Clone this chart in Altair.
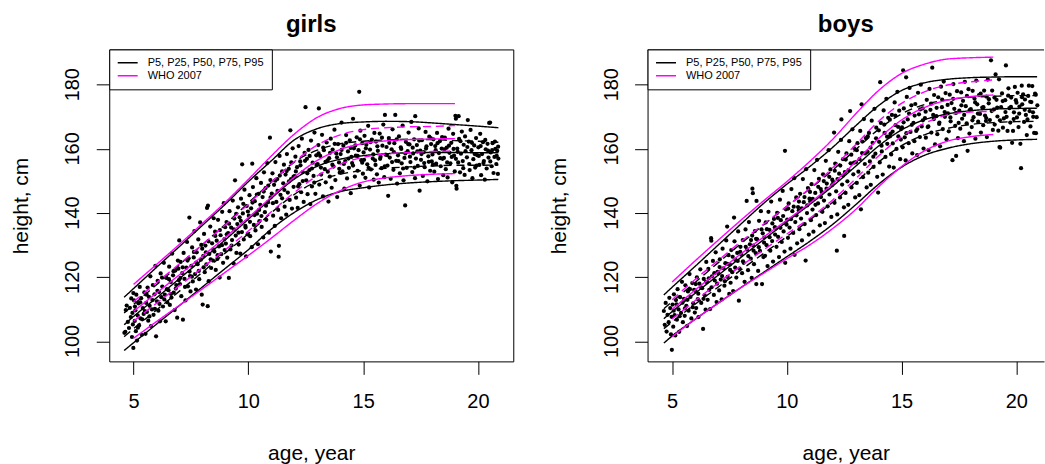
import altair as alt
import pandas as pd

FONT = "Liberation Sans"
MAGENTA = "#FF00FF"
LEG_STUDY = "P5, P25, P50, P75, P95"
LEG_WHO = "WHO 2007"
Y_DOMAIN = [93.8, 191.0]
GIRLS_X = [3.94, 21.54]
BOYS_X = [3.93, 21.21]
X_TICKS = [5, 10, 15, 20]
Y_TICKS = [100, 120, 140, 160, 180]

# ---------------- study percentile curves ----------------
girls_curve_age = [4.59, 5, 6, 7, 8, 9, 10, 11, 12, 13, 14, 15, 16, 17, 18, 19, 20, 20.89]
girls_p95 = [113.8, 116.5, 123.1, 129.6, 136.2, 142.8, 149.8, 156.3, 162.8, 166.3, 167.9, 168.4, 168.6, 168.5, 168.1, 167.6, 167.1, 166.6]
girls_p75 = [108.9, 111.5, 117.7, 123.9, 130.2, 136.5, 143.2, 149.6, 155.9, 159.6, 161.6, 162.4, 162.8, 163.0, 162.9, 162.6, 162.4, 162.1]
girls_p50 = [105.2, 107.8, 113.6, 119.6, 125.6, 131.7, 138.1, 144.6, 150.6, 154.6, 156.8, 157.9, 158.5, 158.8, 158.9, 158.9, 158.8, 158.8]
girls_p25 = [101.5, 104.0, 109.8, 115.7, 121.6, 127.6, 133.6, 140.1, 145.8, 149.9, 152.1, 153.3, 154.0, 154.4, 154.7, 154.9, 154.9, 155.0]
girls_p5 = [97.2, 99.6, 105.4, 111.2, 117.0, 122.8, 128.6, 135.0, 140.2, 144.2, 146.7, 147.9, 148.8, 149.4, 149.8, 150.1, 150.3, 150.5]

boys_curve_age = [4.64, 5, 6, 7, 8, 9, 10, 11, 12, 13, 14, 15, 16, 17, 18, 19, 20, 20.91]
boys_p95 = [114.5, 116.9, 123.4, 130.0, 136.6, 143.1, 149.0, 154.5, 160.5, 167.2, 173.5, 178.2, 180.6, 181.7, 182.2, 182.4, 182.5, 182.5]
boys_p75 = [110.2, 112.4, 118.4, 124.5, 130.5, 136.4, 142.1, 147.5, 153.4, 159.8, 166.1, 170.9, 173.8, 175.3, 176.1, 176.4, 176.6, 176.6]
boys_p50 = [107.1, 109.3, 115.0, 120.6, 126.2, 131.8, 137.3, 142.7, 148.4, 154.6, 160.9, 165.9, 169.1, 170.9, 171.9, 172.4, 172.6, 172.7]
boys_p25 = [104.0, 106.1, 111.6, 116.9, 122.3, 127.5, 132.7, 137.9, 143.4, 149.6, 155.9, 161.0, 164.4, 166.4, 167.6, 168.2, 168.5, 168.6]
boys_p5 = [99.5, 101.7, 106.9, 111.9, 116.8, 121.6, 126.4, 131.2, 136.5, 142.6, 149.0, 154.3, 158.0, 160.2, 161.6, 162.4, 162.8, 163.0]

# ---------------- WHO 2007 reference curves ----------------
who_age = [5, 6, 7, 8, 9, 10, 11, 12, 13, 14, 15, 16, 17, 18, 19]
girls_who_hi = [117.8, 124.0, 130.3, 136.8, 143.4, 150.5, 157.8, 164.6, 169.8, 172.6, 173.7, 174.0, 174.1, 174.1, 174.1]
girls_who_q3 = [112.4, 118.3, 124.2, 130.2, 136.4, 142.8, 149.6, 156.0, 161.2, 164.4, 166.0, 166.6, 166.9, 167.0, 167.3]
girls_who_med = [109.4, 115.1, 120.8, 126.6, 132.5, 138.6, 145.0, 151.2, 156.4, 159.8, 161.7, 162.5, 162.9, 163.1, 163.2]
girls_who_q1 = [106.4, 111.9, 117.4, 123.0, 128.6, 134.4, 140.4, 146.4, 151.6, 155.2, 157.4, 158.4, 158.9, 159.2, 159.3]
girls_who_lo = [101.0, 106.2, 111.3, 116.4, 121.6, 126.8, 132.2, 137.8, 143.0, 147.0, 149.7, 151.0, 151.7, 152.1, 152.3]

boys_who_hi = [118.5, 125.1, 131.5, 137.8, 143.9, 149.8, 156.1, 163.0, 170.9, 178.2, 183.5, 186.4, 188.0, 188.4, 188.6]
boys_who_q3 = [113.0, 119.3, 125.2, 131.1, 136.6, 142.1, 147.7, 154.1, 161.3, 168.6, 174.2, 177.8, 179.9, 180.9, 181.5]
boys_who_med = [110.0, 116.0, 121.7, 127.3, 132.6, 137.8, 143.1, 149.1, 156.0, 163.2, 169.0, 172.9, 175.2, 176.3, 176.8]
boys_who_q1 = [107.0, 112.7, 118.2, 123.5, 128.6, 133.5, 138.4, 144.1, 150.7, 157.8, 163.8, 168.0, 170.6, 171.5, 171.7]
boys_who_lo = [101.5, 106.9, 111.9, 116.8, 121.3, 125.8, 130.1, 135.2, 141.1, 148.2, 154.5, 159.4, 162.4, 163.8, 164.5]

# ---------------- individual measurements (age, height) ----------------
girls_points = [
    (4.60, 102.7), (4.64, 103.0), (4.66, 109.8), (4.70, 111.2), (4.75, 106.1), (4.80, 104.2), (4.84, 110.5),
    (4.88, 107.6), (4.90, 113.4), (4.93, 101.4), (4.95, 108.9), (4.97, 105.3), (4.99, 98.0), (4.99, 115.1),
    (5.02, 112.8), (5.05, 106.4), (5.08, 109.7), (5.10, 103.2), (5.12, 114.6), (5.15, 100.3), (5.18, 108.1),
    (5.21, 111.9), (5.24, 105.0), (5.27, 117.0), (5.30, 107.2), (5.33, 113.5), (5.36, 102.1), (5.40, 110.4),
    (5.44, 108.6), (5.47, 115.3),
    (5.52, 102.4), (5.55, 112.0), (5.58, 109.2), (5.61, 116.8), (5.64, 106.5), (5.67, 113.9), (5.70, 111.1),
    (5.73, 120.3), (5.76, 104.8), (5.80, 110.0), (5.84, 117.6), (5.87, 108.3), (5.91, 114.7), (5.95, 123.6),
    (5.98, 101.6),
    (6.02, 112.5), (6.05, 118.9), (6.08, 109.6), (6.11, 115.4), (6.15, 106.3), (6.18, 121.2), (6.21, 113.8),
    (6.25, 117.1), (6.28, 110.9), (6.32, 124.5), (6.36, 114.6), (6.40, 106.3), (6.43, 119.8), (6.47, 112.2),
    (6.52, 116.0), (6.55, 123.3), (6.58, 111.4), (6.62, 118.5), (6.65, 113.7), (6.68, 127.4), (6.72, 120.6),
    (6.75, 115.2), (6.79, 109.8), (6.82, 122.1), (6.86, 117.6), (6.90, 107.4), (6.93, 125.2), (6.97, 119.1),
    (6.99, 131.5),
    (7.02, 117.9), (7.05, 124.8), (7.08, 114.1), (7.12, 121.3), (7.15, 106.8), (7.18, 127.6), (7.22, 119.5),
    (7.26, 112.8), (7.30, 123.0), (7.33, 131.0), (7.37, 117.2), (7.40, 125.9), (7.43, 138.6), (7.46, 120.4),
    (7.48, 115.6),
    (7.52, 123.6), (7.55, 129.3), (7.58, 118.7), (7.62, 126.2), (7.65, 134.4), (7.68, 121.0), (7.72, 116.2),
    (7.75, 127.8), (7.79, 124.1), (7.82, 131.8), (7.86, 119.4), (7.90, 137.1), (7.93, 125.5), (7.97, 114.6),
    (7.99, 128.9),
    (8.01, 111.5), (8.04, 126.7), (8.07, 133.5), (8.10, 121.6), (8.13, 129.9), (8.17, 124.0), (8.20, 141.6),
    (8.23, 111.0), (8.24, 142.3), (8.27, 118.8), (8.30, 127.3), (8.34, 135.8), (8.38, 122.9), (8.42, 130.6),
    (8.46, 125.2), (8.49, 138.4),
    (8.52, 128.0), (8.55, 134.2), (8.58, 122.3), (8.62, 131.4), (8.65, 125.7), (8.68, 137.9), (8.72, 129.6),
    (8.75, 119.9), (8.79, 133.1), (8.82, 127.2), (8.86, 140.4), (8.90, 124.5), (8.93, 143.1), (8.96, 131.9),
    (8.99, 135.6),
    (9.02, 130.5), (9.05, 137.2), (9.08, 126.1), (9.12, 133.8), (9.15, 119.8), (9.18, 140.6), (9.22, 128.7),
    (9.25, 135.5), (9.29, 131.6), (9.32, 143.9), (9.36, 124.3), (9.39, 138.3), (9.42, 150.2), (9.45, 133.0),
    (9.48, 127.6),
    (9.52, 136.6), (9.55, 141.8), (9.58, 130.2), (9.62, 138.7), (9.65, 127.4), (9.68, 144.5), (9.72, 134.1),
    (9.73, 155.2), (9.76, 139.9), (9.80, 131.8), (9.83, 147.3), (9.87, 136.0), (9.90, 126.5), (9.93, 142.2),
    (9.97, 133.4),
    (10.02, 139.2), (10.05, 145.6), (10.08, 132.8), (10.12, 141.5), (10.15, 129.4), (10.17, 155.4),
    (10.20, 148.1), (10.24, 136.3), (10.28, 143.7), (10.31, 134.6), (10.35, 150.9), (10.38, 139.8),
    (10.42, 130.3), (10.45, 146.0), (10.48, 137.5),
    (10.52, 142.6), (10.55, 149.4), (10.58, 135.7), (10.62, 145.0), (10.65, 132.4), (10.68, 152.7),
    (10.72, 140.3), (10.75, 147.8), (10.78, 137.9), (10.82, 155.6), (10.86, 143.4), (10.90, 133.9),
    (10.94, 163.5), (10.96, 150.3), (10.98, 128.0),
    (11.02, 146.1), (11.05, 152.4), (11.08, 139.2), (11.12, 148.8), (11.15, 136.0), (11.18, 155.9),
    (11.22, 143.5), (11.26, 150.6), (11.30, 141.0), (11.32, 126.4), (11.33, 129.8), (11.36, 157.8),
    (11.40, 145.7), (11.43, 138.4), (11.47, 153.0),
    (11.52, 149.3), (11.55, 155.1), (11.58, 142.0), (11.62, 152.0), (11.65, 139.5), (11.68, 158.4),
    (11.72, 146.4), (11.76, 153.8), (11.80, 144.1), (11.83, 165.8), (11.86, 150.6), (11.90, 141.4),
    (11.93, 160.2), (11.97, 148.2),
    (12.02, 151.5), (12.05, 157.6), (12.08, 144.8), (12.12, 154.3), (12.15, 141.6), (12.19, 160.9),
    (12.22, 149.0), (12.26, 156.1), (12.30, 146.5), (12.33, 163.2), (12.37, 152.8), (12.41, 143.5),
    (12.45, 158.8), (12.49, 173.0),
    (12.52, 150.2), (12.55, 156.9), (12.58, 145.9), (12.62, 159.7), (12.66, 153.4), (12.70, 142.8),
    (12.73, 162.6), (12.77, 148.3), (12.80, 155.7), (12.84, 151.6), (12.88, 165.1), (12.92, 146.0),
    (12.96, 158.0),
    (13.02, 155.3), (13.05, 161.2), (13.07, 172.6), (13.09, 148.9), (13.13, 157.8), (13.17, 152.0),
    (13.21, 164.4), (13.25, 145.2), (13.29, 159.6), (13.33, 153.7), (13.37, 149.6), (13.41, 162.0),
    (13.45, 156.4), (13.49, 143.6),
    (13.52, 157.1), (13.55, 151.4), (13.59, 163.2), (13.63, 147.9), (13.67, 159.8), (13.71, 154.5),
    (13.75, 166.0), (13.79, 150.3), (13.83, 158.6), (13.87, 145.0), (13.91, 161.5), (13.95, 155.8),
    (13.98, 152.6),
    (14.02, 158.4), (14.06, 168.2), (14.10, 153.0), (14.14, 161.0), (14.18, 147.6), (14.22, 156.2),
    (14.26, 164.3), (14.30, 150.8), (14.34, 159.2), (14.38, 154.1), (14.42, 162.7), (14.46, 146.2),
    (14.49, 157.5),
    (14.52, 155.6), (14.56, 169.4), (14.60, 160.2), (14.64, 151.4), (14.68, 157.9), (14.72, 163.6),
    (14.76, 153.2), (14.80, 159.6), (14.83, 177.8), (14.85, 148.6), (14.88, 165.7), (14.92, 156.5),
    (14.96, 161.8), (14.99, 152.3),
    (15.02, 158.9), (15.06, 164.1), (15.10, 151.0), (15.14, 161.3), (15.18, 155.2), (15.22, 167.2),
    (15.26, 148.0), (15.30, 159.8), (15.34, 153.6), (15.38, 162.9), (15.42, 157.0), (15.46, 150.4),
    (15.49, 165.0),
    (15.52, 156.4), (15.56, 162.3), (15.60, 152.1), (15.64, 159.4), (15.68, 149.5), (15.72, 164.8),
    (15.76, 157.6), (15.80, 154.0), (15.84, 161.0), (15.88, 167.6), (15.92, 151.2), (15.95, 170.6),
    (15.98, 158.2),
    (16.02, 160.6), (16.06, 154.8), (16.09, 145.4), (16.12, 163.4), (16.16, 157.3), (16.20, 150.7),
    (16.24, 159.9), (16.28, 166.1), (16.32, 153.5), (16.36, 161.8), (16.40, 170.6), (16.44, 156.3),
    (16.48, 149.2),
    (16.52, 158.0), (16.56, 163.9), (16.60, 152.4), (16.64, 160.5), (16.68, 155.5), (16.72, 167.3),
    (16.76, 150.2), (16.80, 157.2), (16.83, 142.4), (16.86, 162.2), (16.90, 154.1), (16.94, 159.3),
    (16.98, 165.1),
    (17.02, 161.4), (17.06, 155.9), (17.10, 168.4), (17.14, 152.8), (17.18, 158.6), (17.22, 163.0),
    (17.26, 150.9), (17.27, 170.2), (17.30, 157.0), (17.34, 161.2), (17.38, 154.7), (17.42, 166.4),
    (17.46, 147.0), (17.49, 159.5),
    (17.52, 156.6), (17.56, 162.7), (17.60, 151.6), (17.64, 159.0), (17.68, 154.3), (17.72, 165.3),
    (17.76, 160.8), (17.80, 149.9), (17.84, 157.7), (17.88, 163.8), (17.92, 153.2), (17.96, 161.5),
    (17.99, 156.1),
    (18.02, 158.3), (18.06, 163.0), (18.10, 152.9), (18.14, 160.9), (18.18, 155.4), (18.22, 165.0),
    (18.26, 150.6), (18.30, 158.7), (18.34, 162.4), (18.38, 154.6), (18.42, 160.1), (18.46, 156.9),
    (18.49, 151.8),
    (18.52, 157.2), (18.56, 163.5), (18.60, 153.7), (18.64, 160.4), (18.68, 151.1), (18.72, 166.3),
    (18.76, 158.8), (18.80, 155.5), (18.84, 161.9), (18.88, 149.6), (18.92, 164.7), (18.96, 157.9),
    (18.99, 153.0),
    (19.02, 170.3), (19.04, 169.4), (19.06, 148.5), (19.07, 147.6), (19.10, 160.1), (19.14, 155.8),
    (19.16, 170.2), (19.18, 163.1), (19.22, 152.7), (19.26, 158.5), (19.30, 165.4), (19.34, 156.2),
    (19.38, 161.3), (19.42, 151.9), (19.46, 159.3),
    (19.52, 157.4), (19.56, 169.0), (19.60, 162.3), (19.64, 153.4), (19.68, 165.9), (19.72, 159.6),
    (19.76, 150.9), (19.80, 156.8), (19.84, 161.1), (19.88, 154.2), (19.92, 163.4), (19.96, 158.1),
    (20.02, 160.5), (20.06, 155.0), (20.10, 164.7), (20.14, 151.8), (20.18, 158.4), (20.22, 162.1),
    (20.26, 156.2), (20.30, 150.4), (20.34, 159.9), (20.38, 153.9), (20.42, 161.6), (20.46, 157.3),
    (20.49, 168.1),
    (20.53, 168.2), (20.56, 158.9), (20.60, 154.6), (20.64, 161.8), (20.68, 152.5), (20.72, 157.5),
    (20.76, 160.0), (20.80, 155.3), (20.84, 159.4), (20.87, 152.2), (20.89, 157.0),
]

girls_points_dense = [
    (5.06, 110.9), (5.19, 104.3), (5.29, 112.2), (5.38, 106.9), (5.49, 109.5), (5.57, 114.6), (5.69, 107.8),
    (5.82, 112.9), (5.93, 110.2), (6.04, 115.8), (6.13, 111.7), (6.24, 119.9), (6.34, 113.1), (6.45, 116.3),
    (6.54, 119.4), (6.63, 114.8), (6.74, 121.9), (6.84, 116.5), (6.95, 122.7), (7.04, 119.8), (7.14, 123.1),
    (7.24, 117.0), (7.35, 125.2), (7.44, 121.8), (7.54, 120.2), (7.63, 127.9), (7.73, 124.6), (7.84, 122.0),
    (7.95, 130.1),
    (8.05, 123.1), (8.15, 127.8), (8.26, 131.2), (8.36, 125.6), (8.47, 128.7), (8.56, 132.9), (8.66, 126.9),
    (8.76, 134.7), (8.85, 130.0), (8.97, 128.5), (9.06, 133.4), (9.16, 136.7), (9.27, 129.9), (9.37, 134.9),
    (9.47, 139.8), (9.57, 133.9), (9.67, 137.6), (9.78, 142.9), (9.88, 135.5), (9.98, 140.5), (10.07, 137.3),
    (10.18, 143.3), (10.27, 139.4), (10.37, 145.8), (10.47, 141.0), (10.57, 139.1), (10.67, 146.7),
    (10.77, 142.3), (10.87, 148.6), (10.97, 144.9), (11.07, 143.1), (11.17, 150.1), (11.27, 146.9),
    (11.37, 151.7), (11.47, 144.6), (11.57, 147.2), (11.67, 153.1), (11.77, 149.9), (11.87, 155.8),
    (11.97, 151.4),
    (12.07, 153.0), (12.17, 148.3), (12.27, 154.9), (12.37, 150.0), (12.47, 156.3), (12.57, 152.4),
    (12.67, 157.8), (12.77, 153.9), (12.87, 149.5), (12.97, 155.0), (13.06, 158.6), (13.16, 154.2),
    (13.26, 160.4), (13.36, 156.0), (13.46, 152.9), (13.56, 158.8), (13.66, 155.1), (13.76, 161.6),
    (13.86, 157.4), (13.96, 153.8), (14.06, 159.7), (14.16, 155.3), (14.26, 161.9), (14.36, 157.0),
    (14.46, 160.3), (14.56, 154.8), (14.66, 161.1), (14.76, 157.8), (14.86, 163.0), (14.96, 155.7),
    (15.04, 156.6), (15.12, 160.2), (15.24, 154.1), (15.32, 162.1), (15.44, 158.3), (15.54, 155.0),
    (15.62, 160.8), (15.74, 156.9), (15.82, 163.5), (15.94, 154.6), (16.04, 158.1), (16.14, 161.9),
    (16.26, 155.9), (16.34, 159.0), (16.46, 163.0), (16.54, 156.2), (16.66, 160.0), (16.74, 153.9),
    (16.84, 158.6), (16.96, 161.5), (17.04, 157.6), (17.16, 160.4), (17.24, 154.2), (17.36, 159.2),
    (17.44, 162.6), (17.54, 158.4), (17.66, 155.6), (17.74, 160.1), (17.86, 156.0), (17.94, 163.4),
    (18.04, 155.1), (18.16, 159.6), (18.24, 161.8), (18.36, 157.1), (18.44, 163.7), (18.54, 159.9),
    (18.66, 155.8), (18.74, 161.0), (18.86, 157.5), (18.94, 160.0), (19.04, 156.9), (19.12, 159.1),
    (19.24, 162.4), (19.36, 154.0), (19.44, 163.9), (19.54, 160.6), (19.62, 155.3), (19.74, 161.9),
    (19.86, 158.4), (19.94, 154.8), (20.04, 157.8), (20.12, 160.9), (20.24, 155.6), (20.32, 162.8),
    (20.44, 159.5), (20.54, 156.1), (20.62, 159.6), (20.74, 162.3), (20.82, 157.8), (20.88, 160.7),
]

boys_points = [
    (4.64, 109.5), (4.68, 105.2), (4.72, 112.0), (4.76, 103.1), (4.80, 108.3), (4.85, 106.0), (4.88, 113.6),
    (4.92, 110.4), (4.95, 102.2), (4.98, 107.7), (4.99, 97.4),
    (5.02, 111.5), (5.05, 104.6), (5.08, 114.7), (5.11, 108.2), (5.14, 101.9), (5.17, 112.9), (5.21, 106.8),
    (5.24, 116.3), (5.28, 110.0), (5.31, 103.0), (5.35, 113.8), (5.39, 108.9), (5.43, 118.6), (5.47, 106.0),
    (5.52, 113.3), (5.55, 108.0), (5.58, 117.5), (5.62, 111.1), (5.65, 104.8), (5.69, 115.6), (5.72, 109.6),
    (5.76, 121.0), (5.80, 113.9), (5.84, 107.2), (5.88, 118.2), (5.92, 111.9), (5.96, 116.1), (5.99, 109.0),
    (6.02, 115.7), (6.05, 110.4), (6.08, 120.0), (6.12, 113.2), (6.15, 107.6), (6.19, 118.0), (6.23, 122.5),
    (6.27, 112.0), (6.31, 116.6), (6.35, 103.9), (6.38, 119.5), (6.42, 114.4), (6.46, 109.9), (6.49, 124.8),
    (6.52, 118.5), (6.55, 113.0), (6.58, 122.6), (6.62, 116.1), (6.66, 110.1), (6.70, 132.2), (6.71, 131.4),
    (6.74, 120.3), (6.78, 125.1), (6.82, 114.5), (6.86, 119.0), (6.90, 127.8), (6.94, 112.3), (6.98, 121.7),
    (7.02, 121.2), (7.05, 115.9), (7.08, 125.6), (7.12, 119.3), (7.16, 113.1), (7.20, 128.9), (7.24, 122.8),
    (7.28, 117.4), (7.32, 124.4), (7.36, 131.5), (7.40, 135.8), (7.42, 120.1), (7.46, 126.9), (7.49, 114.8),
    (7.52, 124.0), (7.55, 118.3), (7.58, 128.5), (7.62, 121.6), (7.66, 115.7), (7.70, 138.6), (7.72, 131.2),
    (7.76, 125.4), (7.80, 119.9), (7.84, 127.6), (7.88, 134.3), (7.91, 112.7), (7.94, 122.7), (7.98, 129.5),
    (8.02, 127.0), (8.05, 121.3), (8.08, 131.6), (8.12, 124.5), (8.16, 118.6), (8.20, 134.9), (8.25, 143.8),
    (8.27, 128.6), (8.31, 122.2), (8.35, 137.2), (8.39, 130.3), (8.43, 125.8), (8.47, 119.8), (8.49, 133.0),
    (8.50, 147.6), (8.52, 146.2), (8.54, 129.9), (8.57, 124.1), (8.61, 134.4), (8.65, 127.5), (8.67, 117.9),
    (8.68, 143.8), (8.71, 131.8), (8.75, 122.0), (8.79, 137.6), (8.83, 128.2), (8.87, 140.6), (8.92, 117.9),
    (8.95, 133.7), (8.98, 126.3),
    (9.02, 132.4), (9.05, 126.7), (9.08, 137.1), (9.12, 130.0), (9.16, 123.5), (9.20, 140.4), (9.24, 134.8),
    (9.28, 128.3), (9.32, 143.6), (9.36, 131.3), (9.40, 124.9), (9.44, 138.2), (9.48, 135.6),
    (9.52, 135.2), (9.55, 129.5), (9.58, 140.1), (9.62, 132.6), (9.66, 126.3), (9.70, 144.2), (9.74, 137.8),
    (9.78, 131.0), (9.82, 146.9), (9.86, 134.3), (9.90, 128.0), (9.92, 159.4), (9.93, 124.5), (9.96, 141.2),
    (9.99, 136.4),
    (10.02, 138.0), (10.05, 132.3), (10.08, 143.0), (10.12, 135.5), (10.16, 128.9), (10.20, 147.5),
    (10.24, 140.6), (10.28, 133.8), (10.32, 150.9), (10.34, 127.0), (10.37, 137.2), (10.41, 144.9),
    (10.45, 130.6), (10.49, 141.9),
    (10.52, 140.8), (10.55, 135.0), (10.58, 146.0), (10.62, 138.3), (10.66, 131.5), (10.70, 150.6),
    (10.74, 143.4), (10.78, 136.6), (10.82, 125.2), (10.84, 153.7), (10.88, 140.0), (10.92, 147.8),
    (10.96, 133.3), (10.99, 144.5),
    (11.02, 143.6), (11.05, 137.8), (11.08, 149.0), (11.12, 141.1), (11.16, 134.2), (11.20, 153.4),
    (11.24, 146.3), (11.28, 139.4), (11.32, 156.6), (11.36, 143.0), (11.40, 150.7), (11.44, 136.2),
    (11.48, 147.5),
    (11.52, 146.6), (11.55, 140.4), (11.58, 152.1), (11.62, 143.9), (11.66, 136.9), (11.70, 156.3),
    (11.74, 149.2), (11.78, 142.1), (11.82, 159.6), (11.86, 145.8), (11.90, 153.6), (11.94, 138.8),
    (11.98, 150.4),
    (12.02, 149.7), (12.06, 165.1), (12.08, 143.2), (12.11, 155.4), (12.15, 146.8), (12.18, 128.3),
    (12.20, 139.6), (12.24, 159.1), (12.28, 152.3), (12.32, 144.9), (12.36, 162.8), (12.38, 169.2),
    (12.41, 148.9), (12.45, 156.8), (12.49, 141.8),
    (12.50, 132.9), (12.53, 152.8), (12.56, 146.3), (12.60, 158.6), (12.64, 149.9), (12.68, 142.6),
    (12.72, 162.4), (12.76, 171.8), (12.78, 155.5), (12.82, 148.0), (12.86, 166.1), (12.90, 152.1),
    (12.94, 160.2), (12.98, 144.9),
    (13.02, 155.9), (13.05, 149.4), (13.08, 161.8), (13.12, 152.9), (13.16, 145.6), (13.20, 165.6),
    (13.23, 141.2), (13.26, 173.9), (13.28, 158.7), (13.32, 151.2), (13.36, 169.3), (13.40, 155.3),
    (13.44, 163.4), (13.48, 148.0),
    (13.52, 159.1), (13.55, 152.6), (13.58, 165.0), (13.62, 156.1), (13.66, 148.8), (13.70, 168.8),
    (13.74, 161.9), (13.78, 154.4), (13.82, 172.5), (13.86, 158.5), (13.90, 166.6), (13.94, 151.3),
    (13.98, 146.4),
    (14.02, 162.2), (14.05, 155.8), (14.07, 180.8), (14.10, 168.1), (14.14, 159.2), (14.18, 152.0),
    (14.22, 172.0), (14.26, 165.0), (14.30, 157.5), (14.34, 175.6), (14.38, 161.6), (14.42, 169.7),
    (14.46, 154.5), (14.49, 163.9),
    (14.52, 164.7), (14.55, 158.3), (14.58, 170.6), (14.62, 161.7), (14.66, 154.2), (14.70, 174.5),
    (14.74, 167.4), (14.78, 160.0), (14.82, 177.8), (14.86, 163.9), (14.90, 171.9), (14.94, 156.8),
    (14.98, 166.2),
    (15.02, 166.7), (15.05, 160.5), (15.07, 184.5), (15.10, 172.6), (15.14, 163.6), (15.18, 156.4),
    (15.20, 182.3), (15.23, 176.2), (15.27, 169.2), (15.31, 161.8), (15.35, 179.0), (15.39, 165.3),
    (15.43, 173.6), (15.47, 158.6),
    (15.52, 168.1), (15.56, 162.4), (15.60, 174.0), (15.64, 165.6), (15.68, 158.1), (15.72, 177.5),
    (15.76, 170.8), (15.80, 163.7), (15.84, 180.0), (15.88, 167.0), (15.92, 172.6), (15.96, 160.1),
    (16.02, 169.6), (16.06, 163.5), (16.10, 175.3), (16.14, 166.8), (16.18, 159.6), (16.22, 178.7),
    (16.26, 172.2), (16.30, 165.1), (16.34, 185.3), (16.38, 170.6), (16.42, 176.8), (16.46, 161.4),
    (16.52, 170.2), (16.56, 164.6), (16.60, 176.1), (16.64, 167.8), (16.68, 160.8), (16.72, 179.4),
    (16.76, 173.0), (16.80, 166.2), (16.84, 181.0), (16.88, 171.5), (16.92, 177.4), (16.96, 163.0),
    (17.02, 171.1), (17.06, 165.5), (17.10, 176.9), (17.14, 168.6), (17.18, 174.3), (17.22, 156.5),
    (17.26, 180.2), (17.30, 172.5), (17.34, 167.2), (17.38, 157.8), (17.42, 178.0), (17.46, 163.4),
    (17.52, 171.9), (17.56, 166.3), (17.60, 177.6), (17.64, 169.4), (17.68, 175.0), (17.72, 162.4),
    (17.76, 180.9), (17.80, 173.3), (17.84, 168.0), (17.88, 159.4), (17.92, 178.6), (17.96, 164.8),
    (18.02, 172.4), (18.06, 166.8), (18.10, 178.1), (18.14, 169.9), (18.18, 175.7), (18.22, 163.2),
    (18.26, 181.3), (18.30, 173.9), (18.34, 168.5), (18.38, 176.8), (18.42, 170.9), (18.46, 165.1),
    (18.52, 172.9), (18.56, 167.4), (18.60, 178.2), (18.64, 170.4), (18.68, 168.7), (18.70, 176.3),
    (18.72, 163.7), (18.76, 181.6), (18.80, 174.2), (18.85, 169.0), (18.90, 187.6), (18.95, 178.2),
    (18.98, 165.9),
    (19.03, 172.3), (19.06, 167.6), (19.10, 183.2), (19.14, 175.3), (19.18, 170.1), (19.22, 165.7),
    (19.25, 181.7), (19.27, 160.6), (19.30, 160.4), (19.34, 173.0), (19.38, 177.3), (19.42, 166.6),
    (19.46, 169.5),
    (19.52, 175.2), (19.55, 186.0), (19.58, 170.0), (19.62, 165.6), (19.66, 178.9), (19.70, 172.7),
    (19.74, 168.2), (19.78, 176.0), (19.82, 161.9), (19.86, 165.6), (19.90, 171.4), (19.94, 179.3),
    (19.98, 175.2),
    (20.03, 169.8), (20.06, 177.5), (20.10, 166.8), (20.14, 173.2), (20.18, 161.6), (20.21, 154.0),
    (20.24, 179.7), (20.26, 173.9), (20.30, 177.0), (20.34, 168.4), (20.38, 175.4), (20.42, 170.6),
    (20.46, 164.3),
    (20.52, 176.5), (20.55, 179.7), (20.58, 171.8), (20.62, 167.0), (20.66, 174.6), (20.70, 179.6),
    (20.74, 170.0), (20.78, 165.0), (20.82, 177.2), (20.86, 164.9), (20.89, 169.9), (20.92, 173.6),
]

boys_points_dense = [
    (5.07, 109.6), (5.19, 111.6), (5.33, 107.9), (5.45, 112.1), (5.56, 110.3), (5.67, 113.0), (5.78, 116.3),
    (5.90, 110.7), (6.03, 117.9), (6.14, 114.9), (6.26, 116.9), (6.37, 113.3), (6.48, 118.6), (6.60, 119.7),
    (6.72, 116.9), (6.84, 121.3), (6.96, 118.0), (7.07, 123.2), (7.18, 120.4), (7.30, 118.8), (7.41, 124.2),
    (7.53, 122.3), (7.64, 126.4), (7.75, 123.0), (7.86, 125.1), (7.97, 127.9),
    (8.09, 125.0), (8.21, 129.5), (8.32, 126.6), (8.44, 131.6), (8.55, 128.3), (8.66, 132.0), (8.78, 129.4),
    (8.90, 134.9), (9.01, 130.8), (9.13, 135.0), (9.25, 132.5), (9.37, 136.8), (9.49, 133.3), (9.61, 138.5),
    (9.72, 135.4), (9.84, 139.1), (9.95, 136.9), (10.06, 141.4), (10.18, 138.1), (10.30, 142.0),
    (10.42, 139.3), (10.53, 143.6), (10.65, 141.5), (10.77, 145.0), (10.89, 142.4), (11.01, 146.6),
    (11.13, 144.4), (11.25, 142.6), (11.37, 148.2), (11.49, 145.0), (11.61, 150.0), (11.73, 147.6),
    (11.85, 151.3), (11.97, 148.7), (12.09, 153.2), (12.21, 150.6), (12.33, 154.8), (12.45, 151.7),
    (12.57, 156.7), (12.69, 153.4), (12.81, 158.2), (12.93, 155.7), (13.05, 159.6), (13.17, 156.8),
    (13.29, 162.3), (13.41, 158.6), (13.53, 163.9), (13.65, 160.4), (13.77, 157.6), (13.89, 163.3),
    (14.01, 165.8), (14.13, 161.0), (14.25, 167.6), (14.37, 163.8), (14.49, 169.1), (14.61, 165.4),
    (14.73, 170.4), (14.85, 166.9), (14.97, 162.9), (15.09, 168.3), (15.21, 164.9), (15.33, 171.0),
    (15.45, 167.5), (15.57, 170.4), (15.69, 166.2), (15.81, 172.3), (15.93, 168.9), (16.05, 171.6),
    (16.17, 167.0), (16.29, 174.1), (16.41, 169.3), (16.53, 172.8), (16.65, 168.2), (16.77, 175.4),
    (16.89, 170.0), (17.01, 173.7), (17.13, 169.8), (17.25, 175.6), (17.37, 171.2), (17.49, 168.1),
    (17.61, 173.6), (17.73, 170.6), (17.85, 176.5), (17.97, 172.1), (18.09, 168.9), (18.21, 174.5),
    (18.33, 171.0), (18.45, 177.2), (18.57, 173.0), (18.69, 169.6), (18.81, 175.5), (18.93, 171.8),
    (19.05, 176.0), (19.17, 172.9), (19.29, 168.9), (19.41, 174.9), (19.53, 171.5), (19.65, 176.6),
    (19.77, 173.1), (19.89, 169.3), (20.01, 174.4), (20.13, 171.0), (20.25, 176.1), (20.37, 172.2),
    (20.49, 169.2), (20.61, 174.7), (20.73, 171.4), (20.85, 176.9),
]


def curve_frame(ages, series, group):
    rows = []
    for name, dash, values in series:
        for a, h in zip(ages, values):
            rows.append({"age": a, "height": h, "curve": name, "dash": dash, "group": group})
    return pd.DataFrame(rows)


girls_study = curve_frame(girls_curve_age, [
    ("P5", "solid", girls_p5), ("P25", "dashed", girls_p25), ("P50", "solid", girls_p50),
    ("P75", "dashed", girls_p75), ("P95", "solid", girls_p95)], LEG_STUDY)
girls_who = curve_frame(who_age, [
    ("lo", "solid", girls_who_lo), ("q1", "dashed", girls_who_q1), ("med", "solid", girls_who_med),
    ("q3", "dashed", girls_who_q3), ("hi", "solid", girls_who_hi)], LEG_WHO)
boys_study = curve_frame(boys_curve_age, [
    ("P5", "solid", boys_p5), ("P25", "dashed", boys_p25), ("P50", "solid", boys_p50),
    ("P75", "dashed", boys_p75), ("P95", "solid", boys_p95)], LEG_STUDY)
boys_who = curve_frame(who_age, [
    ("lo", "solid", boys_who_lo), ("q1", "dashed", boys_who_q1), ("med", "solid", boys_who_med),
    ("q3", "dashed", boys_who_q3), ("hi", "solid", boys_who_hi)], LEG_WHO)

girls_df = pd.DataFrame(girls_points + girls_points_dense, columns=["age", "height"])
boys_df = pd.DataFrame(boys_points + boys_points_dense, columns=["age", "height"])
# tick values for the y labels (same field name so the axis is shared)
ticks_df = pd.DataFrame({"height": Y_TICKS})


def panel(title, pts, study_df, who_df, xdom, width, full_box):
    xscale = alt.Scale(domain=xdom, nice=False, zero=False)
    yscale = alt.Scale(domain=Y_DOMAIN, nice=False, zero=False)
    xaxis = alt.Axis(
        values=X_TICKS, grid=False, domain=not full_box, domainColor="black", domainWidth=1,
        ticks=True, tickSize=13, tickColor="black", tickWidth=1,
        labelFont=FONT, labelFontSize=20, labelColor="black", labelBaseline="alphabetic",
        labelPadding=33, labelOverlap=False, labelFlush=False,
        title="age, year", titleFont=FONT, titleFontSize=21, titleFontWeight="normal",
        titleColor="black", titleBaseline="alphabetic", titleY=98,
    )
    yaxis = alt.Axis(
        values=Y_TICKS, grid=False, domain=not full_box, domainColor="black", domainWidth=1,
        ticks=True, tickSize=13, tickColor="black", tickWidth=1, labels=False,
        title="height, cm", titleFont=FONT, titleFontSize=21, titleFontWeight="normal",
        titleColor="black", titleAngle=270, titleAlign="center", titleBaseline="alphabetic",
        titleX=-82, titleY=156.5,
    )
    x = alt.X("age:Q", scale=xscale, axis=xaxis)
    y = alt.Y("height:Q", scale=yscale, axis=yaxis)
    legend = alt.Legend(
        title=None, orient="top-left", offset=0, padding=7.5, strokeColor="black", fillColor="white",
        cornerRadius=0, symbolType="stroke", symbolSize=400, symbolStrokeWidth=1.5, clipHeight=11.6,
        rowPadding=0, labelFont=FONT, labelFontSize=11, labelColor="black", labelOffset=9,
    )
    color = alt.Color("group:N", scale=alt.Scale(domain=[LEG_STUDY, LEG_WHO], range=["black", MAGENTA]),
                      legend=legend)
    dash = alt.StrokeDash("dash:N", scale=alt.Scale(domain=["solid", "dashed"], range=[[1, 0], [8, 5]]),
                          legend=None)

    points = alt.Chart(pts).mark_circle(size=18, color="black", opacity=1).encode(x=x, y=y)
    study = alt.Chart(study_df).mark_line(strokeWidth=1.4, interpolate="monotone").encode(
        x=x, y=y, color=color, strokeDash=dash, detail="curve:N")
    who = alt.Chart(who_df).mark_line(strokeWidth=1.4, interpolate="monotone").encode(
        x=x, y=y, color=color, strokeDash=dash, detail="curve:N")
    # y tick labels, parallel to the axis (read bottom to top)
    ylabels = alt.Chart(ticks_df).mark_text(
        angle=270, align="center", baseline="alphabetic", font=FONT, fontSize=20, color="black"
    ).encode(
        y=y,
        x=alt.value(-30),
        text=alt.Text("height:Q", format="d"),
    )
    layers = [points, study, who, ylabels]
    if not full_box:
        top = alt.Chart(alt.Data(values=[{"k": 1}])).mark_rule(color="black", strokeWidth=1).encode(
            x=alt.value(0), x2=alt.value(width), y=alt.value(0.5))
        layers.append(top)
    view = alt.ViewBackground(stroke="black" if full_box else "transparent", strokeWidth=1, fill="white")
    return alt.layer(*layers).properties(
        width=width, height=312.7, view=view,
        title=alt.TitleParams(text=title, font=FONT, fontSize=24, fontWeight="bold", color="black",
                              anchor="middle", frame="group", baseline="alphabetic", offset=-7.4),
    )


girls = panel("girls", girls_df, girls_study, girls_who, GIRLS_X, 405, True)
boys = panel("boys", boys_df, boys_study, boys_who, BOYS_X, 397.4, False)

chart = alt.hconcat(girls, boys, spacing=134.6, bounds="flush").resolve_scale(
    color="independent", x="independent", strokeDash="independent"
).resolve_legend(color="independent").properties(
    padding={"left": 9.5, "top": 12, "right": 0, "bottom": 0},
    autosize=alt.AutoSizeParams(type="pad"),
    background="white",
).configure(font=FONT)

chart.save("out.html", embed_options={"renderer": "svg", "actions": False})
